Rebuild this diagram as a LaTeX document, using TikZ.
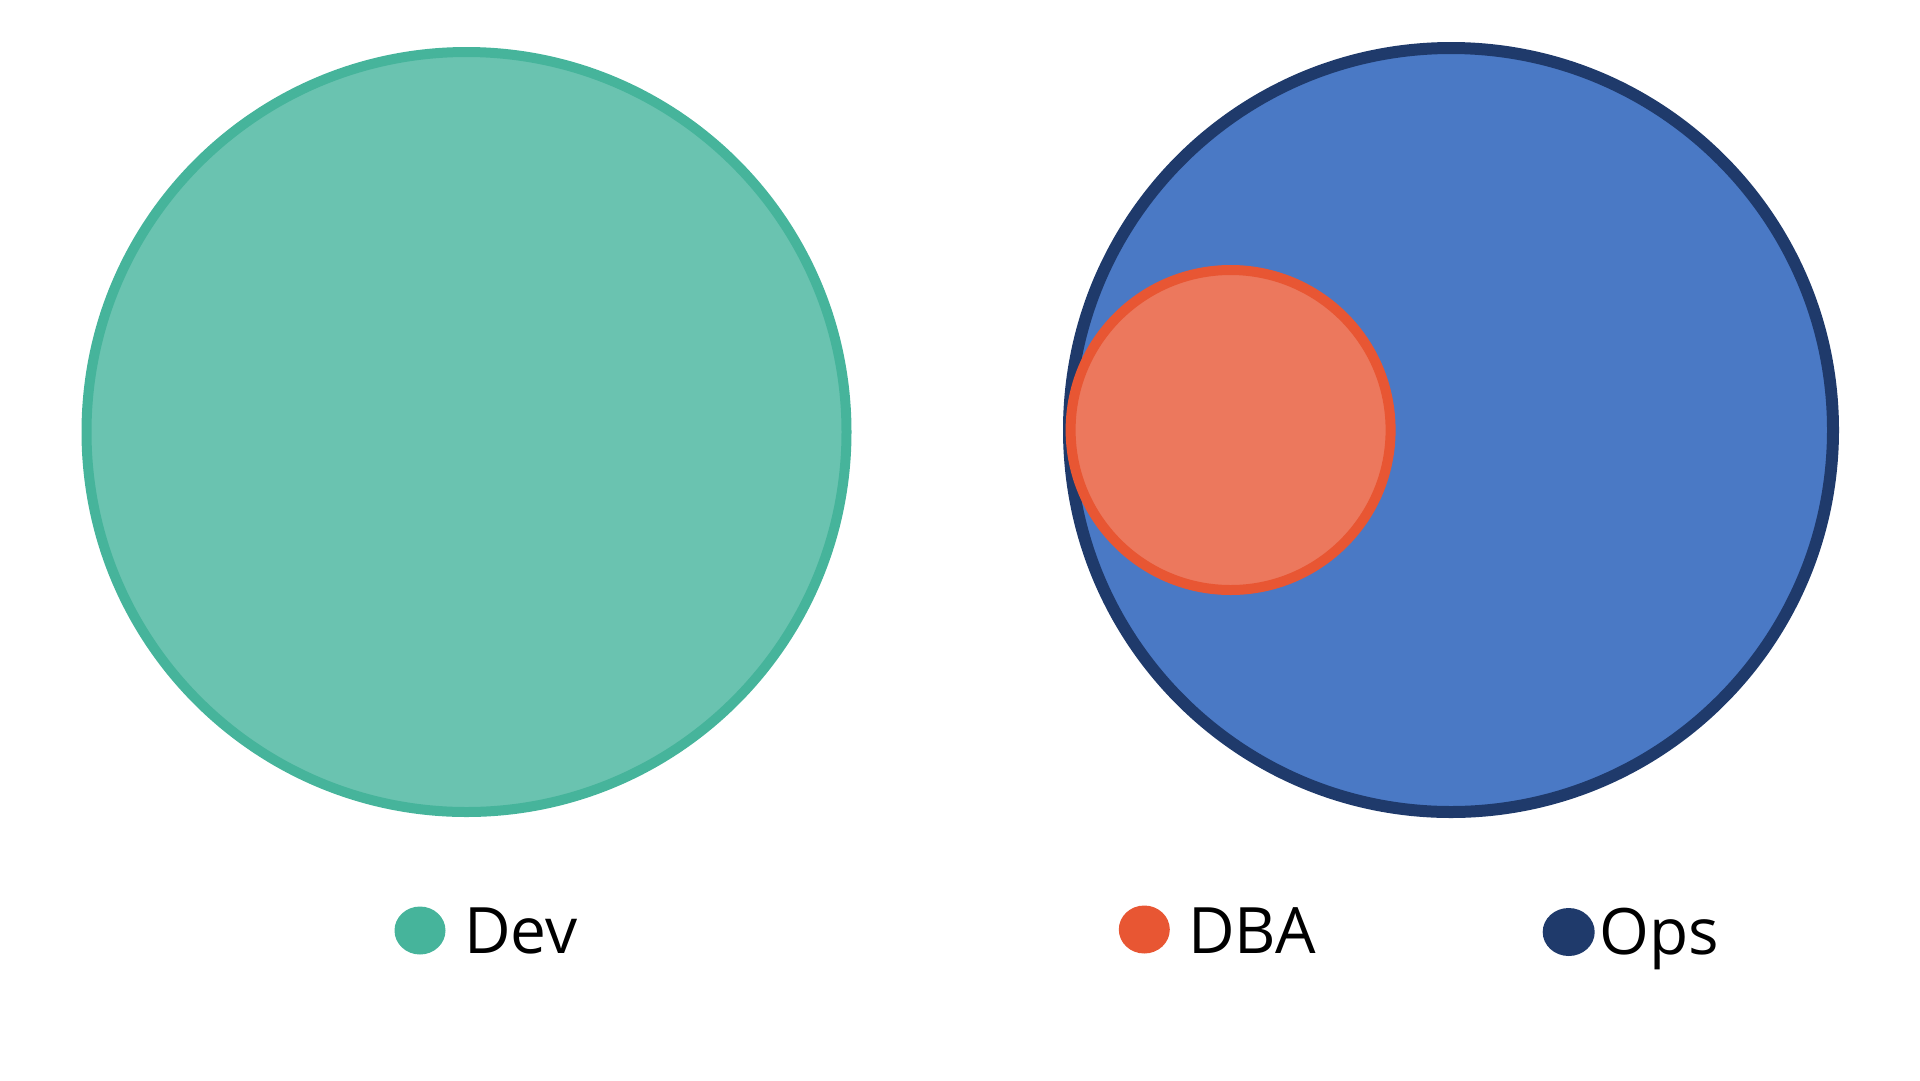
\documentclass[tikz,border=0pt]{standalone}
\usepackage{fontspec}
\setmainfont{Open Sans}
\definecolor{devfill}{HTML}{6AC3B0}
\definecolor{devline}{HTML}{46B49B}
\definecolor{opsfill}{HTML}{4A79C5}
\definecolor{opsline}{HTML}{1F3A6B}
\definecolor{dbafill}{HTML}{EC785D}
\definecolor{dbaline}{HTML}{E85633}
\tikzset{
  setcircle/.style={circle, inner sep=0pt, outer sep=0pt},
  legdot/.style={ellipse, inner sep=0pt, outer sep=0pt},
  legtext/.style={anchor=base west, inner sep=0pt, font=\fontsize{64}{64}\selectfont},
}
\usetikzlibrary{shapes.geometric}
\begin{document}
\begin{tikzpicture}[x=1pt,y=-1pt]
\useasboundingbox (0,0) rectangle (1920,1080);
\node[setcircle, fill=devfill, draw=devline, line width=10pt, minimum size=760pt] (dev) at (466.5,432) {};
\node[setcircle, fill=opsfill, draw=opsline, line width=12pt, minimum size=764pt] (ops) at (1451,430) {};
\node[setcircle, fill=dbafill, draw=dbaline, line width=10pt, minimum size=320pt] (dba) at (1230.6,430) {};
\node[legdot, fill=devline, minimum width=51pt, minimum height=48pt] (devdot) at (420,930.5) {};
\node[legdot, fill=dbaline, minimum width=51pt, minimum height=48pt] (dbadot) at (1144.3,929.5) {};
\node[legdot, fill=opsline, minimum width=52pt, minimum height=48pt] (opsdot) at (1568.7,932) {};
\node[legtext] (devtxt) at (464,953.3) {Dev};
\node[legtext] (dbatxt) at (1188,953.3) {DBA};
\node[legtext] (opstxt) at (1599,954) {Ops};
\end{tikzpicture}
\end{document}
